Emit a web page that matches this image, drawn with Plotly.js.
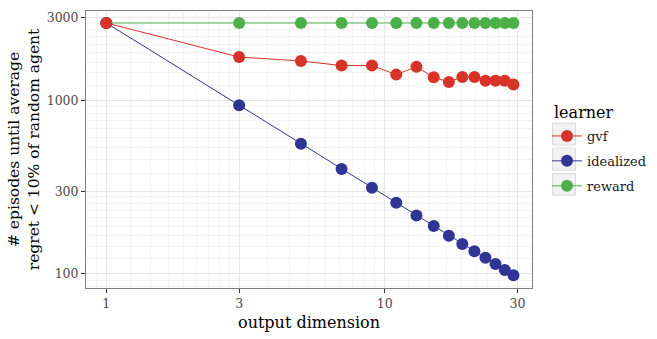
<!DOCTYPE html>
<html>
<head>
<meta charset="utf-8">
<script src="https://cdn.plot.ly/plotly-3.0.1.min.js"></script>
<style>
  html, body { margin: 0; padding: 0; background: #fff; }
  #chart { width: 657px; height: 339px; }
</style>
</head>
<body>
<div id="chart"></div>
<script>
// output dimension for each run
var dims = [1, 3, 5, 7, 9, 11, 13, 15, 17, 19, 21, 23, 25, 27, 29];

// episodes until average regret < 10% of random agent
var gvf = [2800, 1780, 1690, 1590, 1590, 1410, 1565, 1360, 1280, 1365, 1365, 1300, 1300, 1300, 1235];
var idealized = [2800, 940, 564, 403, 314, 257, 217, 189, 166, 149, 135, 124, 114, 105.5, 98.3];
var reward = [2800, 2800, 2800, 2800, 2800, 2800, 2800, 2800, 2800, 2800, 2800, 2800, 2800, 2800, 2800];

var xTicks = [1, 3, 10, 30];
var yTicks = [100, 300, 1000, 3000];

var colGvf = 'rgb(217, 50, 40)';
var colIdeal = 'rgb(48, 52, 148)';
var colReward = 'rgb(77, 175, 74)';

// ggplot-style minor grid: 9 even steps between neighbouring breaks
function minorBreaks(majors) {
    var all = [majors[0] / 3.333].concat(majors, [majors[majors.length - 1] * 3.333]);
    var out = [];
    for (var i = 0; i < all.length - 1; i++) {
        var step = (all[i + 1] - all[i]) / 9;
        for (var k = 1; k < 9; k++) out.push(all[i] + k * step);
    }
    return out;
}

var W = 657, H = 339;
var M = {l: 86, r: 125, t: 11, b: 51, autoexpand: false};
var pw = W - M.l - M.r, ph = H - M.t - M.b;
function px(x) { return (x - M.l) / pw; }
function py(y) { return 1 - (y - M.t) / ph; }

var serif = 'DejaVu Serif, serif';

function series(name, ys, color, rank) {
    return {
        x: dims, y: ys, name: name,
        mode: 'lines+markers',
        legendrank: rank,
        legendgroup: name,
        line: {color: color, width: 1},
        marker: {color: color, size: 12}
    };
}

var data = [
    series('reward', reward, colReward, 3),
    series('idealized', idealized, colIdeal, 2),
    series('gvf', gvf, colGvf, 1)
];

// grey legend key backgrounds
var keyBoxes = [[123, 145], [148, 170], [173.5, 195]].map(function (b) {
    return {
        type: 'rect', xref: 'paper', yref: 'paper',
        x0: px(552.5), x1: px(575.5), y0: py(b[1]), y1: py(b[0]),
        fillcolor: '#f2f2f2', line: {color: '#dadada', width: 1}
    };
});

var layout = {
    width: W, height: H,
    margin: M,
    paper_bgcolor: '#fff',
    plot_bgcolor: '#fff',
    font: {family: serif, color: '#000'},
    showlegend: true,
    legend: {
        x: px(547), y: py(121), xanchor: 'left', yanchor: 'top',
        font: {size: 13, color: '#1a1a1a'},
        tracegroupgap: 5,
        bgcolor: 'rgba(0,0,0,0)'
    },
    annotations: [{
        text: 'learner', xref: 'paper', yref: 'paper',
        x: px(552), y: py(112), xanchor: 'left', yanchor: 'middle',
        showarrow: false, font: {size: 16, color: '#000'}
    }],
    shapes: keyBoxes,
    xaxis: {
        type: 'log',
        range: [-0.073, 1.529],
        tickmode: 'array', tickvals: xTicks, ticktext: xTicks.map(String),
        ticks: 'outside', ticklen: 4, tickcolor: '#333',
        tickfont: {size: 12.5, color: '#4d4d4d'},
        showgrid: true, gridcolor: '#e6e6e6', gridwidth: 1,
        minor: {tickmode: 'array', tickvals: minorBreaks(xTicks), showgrid: true, gridcolor: '#f4f4f4', gridwidth: 1, ticks: ''},
        showline: true, mirror: true, linecolor: '#7f7f7f', linewidth: 1,
        zeroline: false,
        title: {text: 'output dimension', font: {size: 16, color: '#000'}, standoff: 6}
    },
    yaxis: {
        type: 'log',
        range: [1.919, 3.516],
        tickmode: 'array', tickvals: yTicks, ticktext: yTicks.map(String),
        ticks: 'outside', ticklen: 4, tickcolor: '#333',
        tickfont: {size: 12.5, color: '#4d4d4d'},
        showgrid: true, gridcolor: '#e6e6e6', gridwidth: 1,
        minor: {tickmode: 'array', tickvals: minorBreaks(yTicks), showgrid: true, gridcolor: '#f4f4f4', gridwidth: 1, ticks: ''},
        showline: true, mirror: true, linecolor: '#7f7f7f', linewidth: 1,
        zeroline: false,
        title: {text: '# episodes until average<br>regret &lt; 10% of random agent', font: {size: 15.5, color: '#000'}, standoff: 3}
    }
};

Plotly.newPlot('chart', data, layout, {displayModeBar: false, staticPlot: true});
</script>
</body>
</html>
